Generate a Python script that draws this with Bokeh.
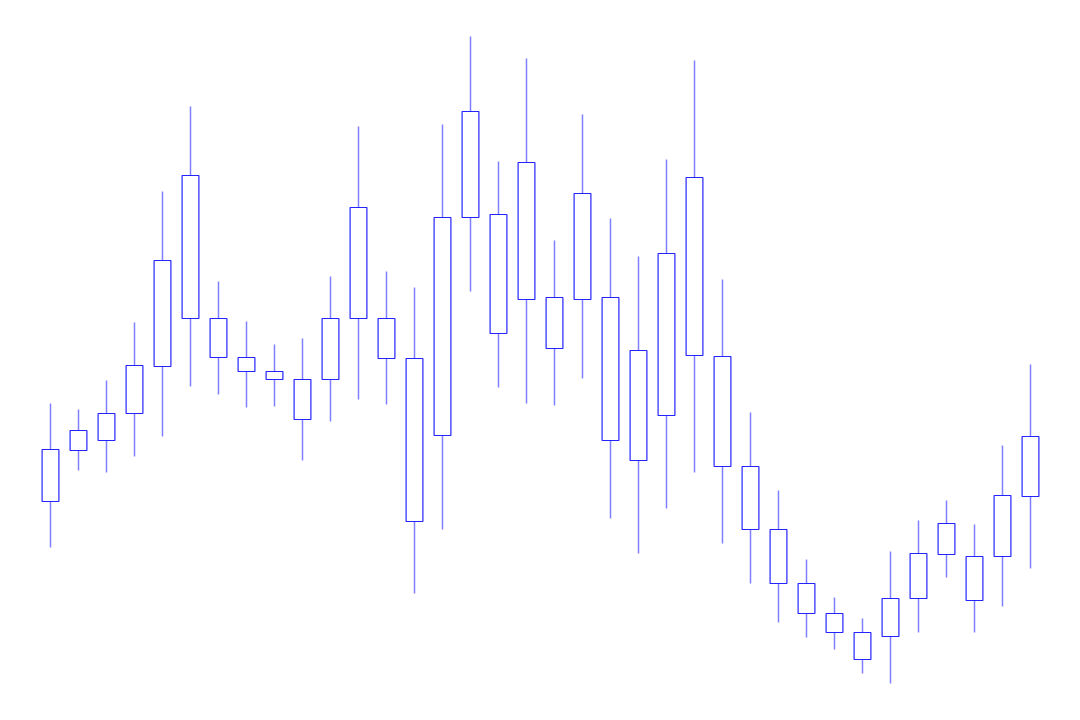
from bokeh.embed import file_html
from bokeh.models import ColumnDataSource
from bokeh.plotting import figure
from bokeh.resources import INLINE

# 36 sessions, prices
days = list(range(36))
opens = [219, 270, 280, 307, 354, 402, 402, 363, 349, 341, 341, 402,
         402, 362, 285, 503, 506, 558, 423, 527, 423, 370, 305, 365,
         364, 254, 191, 137, 107, 88, 84, 122, 166, 164, 164, 224]
closes = [271, 290, 307, 355, 460, 545, 363, 349, 341, 301, 402, 513,
          362, 199, 503, 609, 387, 421, 372, 421, 280, 260, 467, 543,
          254, 191, 137, 107, 88, 61, 122, 167, 197, 120, 225, 284]
highs = [317, 311, 340, 398, 529, 614, 439, 399, 376, 382, 444, 594,
         449, 433, 596, 684, 559, 662, 480, 606, 502, 464, 561, 660,
         441, 308, 230, 161, 123, 102, 169, 200, 220, 196, 275, 356]
lows = [173, 250, 248, 264, 284, 334, 326, 313, 314, 260, 299, 321,
        316, 127, 191, 429, 333, 317, 315, 342, 202, 167, 212, 248,
        177, 137, 98, 83, 71, 47, 37, 88, 143, 88, 114, 152]

source = ColumnDataSource(data=dict(
    day=days, open=opens, close=closes, high=highs, low=lows,
))

p = figure(width=1072, height=712, x_range=(-50 / 28, 36.5), y_range=(8, 720),
           output_backend="svg", toolbar_location=None, min_border=0)
p.axis.visible = False
p.grid.grid_line_color = None
p.outline_line_color = None

# wicks first, bodies drawn over them with a white fill
p.segment("day", "high", "day", "low", source=source,
          line_color="blue", line_alpha=0.5, line_width=1.5)
p.vbar("day", 0.6, "open", "close", source=source,
       fill_color="white", line_color="#2424ff", line_width=1.2)

open("out.html", "w").write(file_html(p, INLINE))
